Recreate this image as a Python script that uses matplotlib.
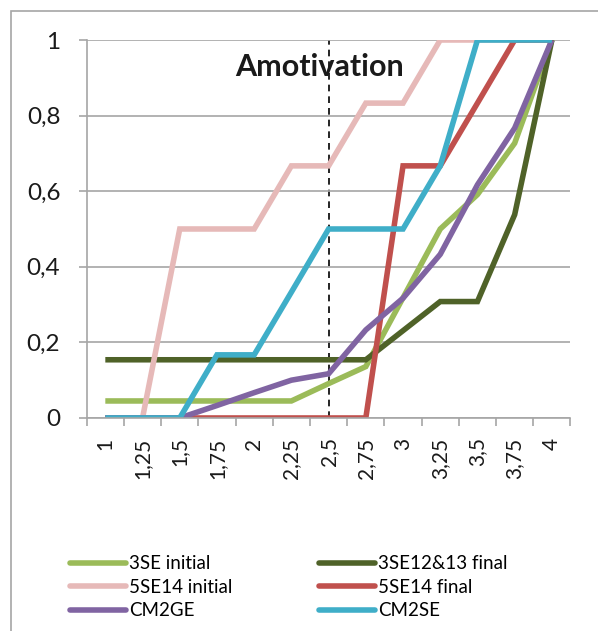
import matplotlib
matplotlib.use("Agg")
import matplotlib.pyplot as plt
from matplotlib.patches import Rectangle

plt.rcParams['font.family'] = ['Lato', 'DejaVu Sans']

#-----------
#Data
#-----------
categories = ["1", "1,25", "1,5", "1,75", "2", "2,25", "2,5", "2,75",
              "3", "3,25", "3,5", "3,75", "4"]
se3_initial = [0.045, 0.045, 0.045, 0.045, 0.045, 0.045, 0.091, 0.136,
               0.318, 0.5, 0.591, 0.727, 1.0]
se3_final = [0.154, 0.154, 0.154, 0.154, 0.154, 0.154, 0.154, 0.154,
             0.231, 0.308, 0.308, 0.538, 1.0]
se5_initial = [0.0, 0.0, 0.5, 0.5, 0.5, 0.667, 0.667, 0.833,
               0.833, 1.0, 1.0, 1.0, 1.0]
se5_final = [0.0, 0.0, 0.0, 0.0, 0.0, 0.0, 0.0, 0.0,
             0.667, 0.667, 0.833, 1.0, 1.0]
cm2ge = [0.0, 0.0, 0.0, 0.033, 0.067, 0.1, 0.117, 0.233,
         0.317, 0.433, 0.617, 0.767, 1.0]
cm2se = [0.0, 0.0, 0.0, 0.167, 0.167, 0.333, 0.5, 0.5,
         0.5, 0.667, 1.0, 1.0, 1.0]
yticks = [0, 0.2, 0.4, 0.6, 0.8, 1]
ytick_labels = ["0", "0,2", "0,4", "0,6", "0,8", "1"]

series = [("3SE initial", se3_initial, "#9BBB59"),
          ("3SE12&13 final", se3_final, "#4F6228"),
          ("5SE14 initial", se5_initial, "#E6B9B8"),
          ("5SE14 final", se5_final, "#C0504D"),
          ("CM2GE", cm2ge, "#8064A2"),
          ("CM2SE", cm2se, "#3FAEC8")]

#-----------
#Figure
#-----------
fig = plt.figure(figsize=(5.98, 6.31), dpi=100)
fig.patches.append(Rectangle((11/598, -0.1), 1.2, 1 - 11/631 + 0.1,
                             transform=fig.transFigure, fill=False,
                             edgecolor="#A6A6A6", linewidth=1.2))
ax = fig.add_axes([0.145, 0.3376, 0.809, 0.599])

x = list(range(len(categories)))
for name, vals, col in series:
    ax.plot(x, vals, color=col, linewidth=4, label=name,
            solid_capstyle="butt", solid_joinstyle="miter")

ax.axvline(categories.index("2,5"), color="black", linestyle=(0, (4, 3)),
           linewidth=1.2, zorder=0.5)
ax.text(0.482, 0.929, "Amotivation", transform=ax.transAxes, ha="center",
        va="center", fontsize=22, fontweight="bold", color="#1a1a1a")

ax.set_xlim(-0.5, len(categories) - 0.5)
ax.set_ylim(0, 1)
ax.set_yticks(yticks)
ax.set_yticklabels(ytick_labels)
ax.set_xticks(x)
ax.set_xticklabels(categories, rotation=90)
ax.set_xticks([i - 0.5 for i in range(len(categories) + 1)], minor=True)
ax.tick_params(axis="x", which="major", length=0, pad=14, labelsize=15,
               colors="#1a1a1a")
ax.tick_params(axis="x", which="minor", length=6, width=1.2, color="#A6A6A6")
ax.tick_params(axis="y", length=6, width=1.2, color="#A6A6A6", pad=13,
               labelsize=17.5, labelcolor="#1a1a1a")
ax.grid(axis="y", color="#A6A6A6", linewidth=1.2)
ax.set_axisbelow(True)
for s in ["top", "right"]:
    ax.spines[s].set_visible(False)
for s in ["left", "bottom"]:
    ax.spines[s].set_color("#A6A6A6")
    ax.spines[s].set_linewidth(1.2)

handles, labels = ax.get_legend_handles_labels()
order = [0, 2, 4, 1, 3, 5]
leg = fig.legend([handles[i] for i in order], [labels[i] for i in order],
                 ncol=2, loc="upper left", bbox_to_anchor=(0.117, 0.12),
                 frameon=False, fontsize=13.5, handlelength=3.0,
                 handletextpad=0.15, columnspacing=4.6, labelspacing=0.35,
                 borderpad=0, borderaxespad=0)
for line in leg.get_lines():
    line.set_solid_capstyle("round")

fig.savefig("out.png", dpi=100)
